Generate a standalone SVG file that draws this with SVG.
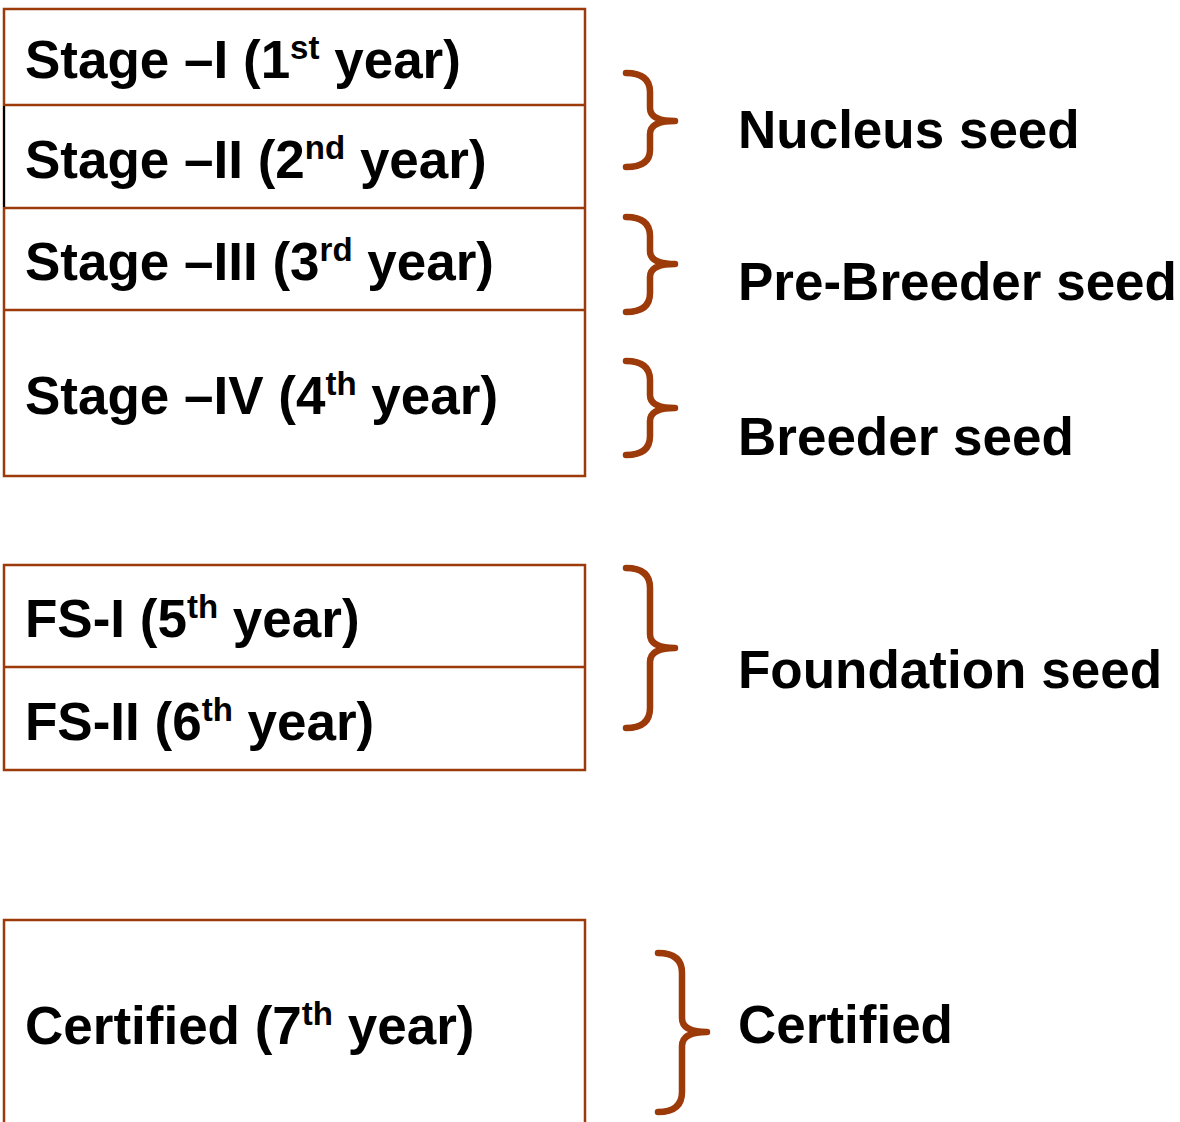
<svg xmlns="http://www.w3.org/2000/svg" width="1180" height="1122" viewBox="0 0 1180 1122">
<style>
.box{fill:none;stroke:#9C3A0A;stroke-width:2.5}
.ln{stroke:#9C3A0A;stroke-width:2.5}
.br{fill:none;stroke:#9C3A0A;stroke-width:6.5;stroke-linecap:round;stroke-linejoin:round}
text{font-family:"Liberation Sans",Arial,sans-serif;font-weight:bold;font-size:53px;fill:#000}
.sup{font-size:33px}
</style>
<rect width="1180" height="1122" fill="#fff"/>
<g id="stages">
<rect class="box" x="4" y="9" width="581" height="467"/>
<line class="ln" x1="4" y1="105" x2="585" y2="105"/>
<line class="ln" x1="4" y1="208" x2="585" y2="208"/>
<line class="ln" x1="4" y1="310" x2="585" y2="310"/>
<line x1="4" y1="106" x2="4" y2="207" stroke="#000" stroke-width="2"/>
</g>
<g id="stage1"><text x="25" y="78">Stage –I (1<tspan class="sup" dy="-19">st</tspan><tspan dy="19"> year)</tspan></text></g>
<g id="stage2"><text x="25" y="178">Stage –II (2<tspan class="sup" dy="-19">nd</tspan><tspan dy="19"> year)</tspan></text></g>
<g id="stage3"><text x="25" y="280">Stage –III (3<tspan class="sup" dy="-19">rd</tspan><tspan dy="19"> year)</tspan></text></g>
<g id="stage4"><text x="25" y="414">Stage –IV (4<tspan class="sup" dy="-19">th</tspan><tspan dy="19"> year)</tspan></text></g>
<g id="fs">
<rect class="box" x="4" y="565" width="581" height="205"/>
<line class="ln" x1="4" y1="667" x2="585" y2="667"/>
</g>
<g id="fs1"><text x="25" y="637">FS-I (5<tspan class="sup" dy="-19">th</tspan><tspan dy="19"> year)</tspan></text></g>
<g id="fs2"><text x="25" y="740">FS-II (6<tspan class="sup" dy="-19">th</tspan><tspan dy="19"> year)</tspan></text></g>
<g id="certified-box">
<rect class="box" x="4" y="920" width="581" height="220"/>
<text x="25" y="1044">Certified (7<tspan class="sup" dy="-19">th</tspan><tspan dy="19"> year)</tspan></text>
</g>
<g id="connectors">
<path class="br" d="M626,73 Q650,73 650,92 L650,108 Q650,121 675,121 Q650,121 650,134 L650,150 Q650,167 626,167"/>
<path class="br" d="M626,217 Q650,217 650,236 L650,251 Q650,264 675,264 Q650,264 650,277 L650,293 Q650,312 626,312"/>
<path class="br" d="M626,361 Q650,361 650,380 L650,395 Q650,408 675,408 Q650,408 650,421 L650,436 Q650,455 626,455"/>
<path class="br" d="M626,568 Q650,568 650,588 L650,634 Q650,648 675,648 Q650,648 650,662 L650,708 Q650,728 626,728"/>
<path class="br" d="M658,953 Q682,953 682,973 L682,1018 Q682,1032 707,1032 Q682,1032 682,1046 L682,1092 Q682,1112 658,1112"/>
</g>
<g id="nucleus"><text x="738" y="148">Nucleus seed</text></g>
<g id="prebreeder"><text x="738" y="300">Pre-Breeder seed</text></g>
<g id="breeder"><text x="738" y="455">Breeder seed</text></g>
<g id="foundation"><text x="738" y="688">Foundation seed</text></g>
<g id="certified"><text x="738" y="1043">Certified</text></g>
</svg>
